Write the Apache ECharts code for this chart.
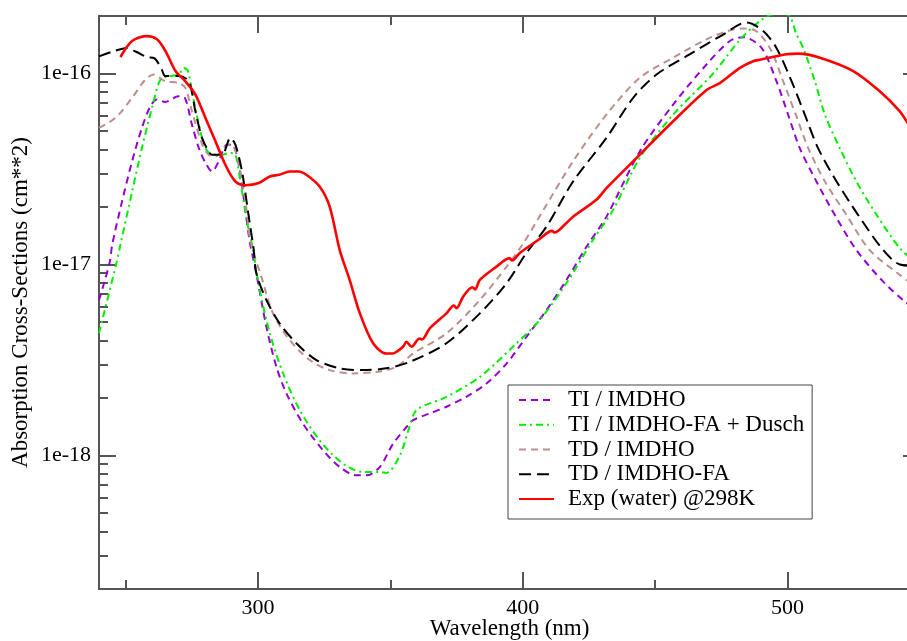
<!DOCTYPE html>
<html>
<head>
<meta charset="utf-8">
<script src="https://cdn.jsdelivr.net/npm/echarts@6/dist/echarts.min.js"></script>
<style>html,body{margin:0;padding:0;background:#fff;}#chart{width:907px;height:641px;}</style>
</head>
<body>
<div id="chart"></div>
<script>
// ---- data (wavelength in nm, cross-section in cm^2) ----
const seriesNames = ['TI / IMDHO', 'TI / IMDHO-FA + Dusch', 'TD / IMDHO', 'TD / IMDHO-FA', 'Exp (water) @298K'];

const tiImdhoWl = [240,244,245,248.7,252.5,256.2,259.4,261.9,265,270,272.4,275.1,277.7,280.2,282.7,285.2,288.3,290.2,292.8,295.3,297,299.4,303.2,307,310.8,317,324.6,330.9,337.2,341,346,351,356.1,358.6,364.9,371.2,378.7,386.3,393.9,401.4,409,416.5,424.1,431.6,444.2,456.8,469.4,478.2,483.2,490.2,495.8,500.2,504.6,510.9,517.8,526,536.1,544.3,550];
const tiImdhoVal = [6.5e-18,1.02e-17,1.27e-17,2.14e-17,3.47e-17,5.19e-17,6.74e-17,7.31e-17,7.1e-17,7.6e-17,7.46e-17,5.4e-17,4.07e-17,3.4e-17,3.07e-17,3.47e-17,4.24e-17,4.24e-17,3.33e-17,1.9e-17,1.3e-17,9.0e-18,4.72e-18,2.91e-18,2.11e-18,1.47e-18,1.065e-18,8.7e-19,7.87e-19,7.87e-19,8.7e-19,1.15e-18,1.41e-18,1.53e-18,1.66e-18,1.8e-18,2.03e-18,2.38e-18,3.03e-18,4.18e-18,5.78e-18,8.3e-18,1.24e-17,1.78e-17,3.91e-17,6.88e-17,1.115e-16,1.48e-16,1.55e-16,1.36e-16,9.11e-17,6.09e-17,4.07e-17,2.72e-17,1.82e-17,1.19e-17,8.13e-18,6.39e-18,5.6e-18];

const tiFaWl = [240,246.6,248.1,252.5,256.2,260,263.2,266.3,270.1,272,273.6,275.1,277.7,280.2,282.7,286.4,289.6,291.5,293.4,295.9,297.8,300.7,304.5,309.5,315.8,323.3,332.1,339.7,346,348.5,353.6,357.3,359.9,371.2,383.8,396.3,406.4,416.5,426.6,434.1,444.2,456.8,471.9,482,489.5,495,500,503.4,505.9,510.3,514.1,519.7,526,533.6,543,550];
const tiFaVal = [4.36e-18,1.02e-17,1.27e-17,2.41e-17,4.07e-17,6.61e-17,9.3e-17,9.68e-17,9.88e-17,1.07e-16,1.03e-16,8.07e-17,5.4e-17,4.07e-17,3.76e-17,3.76e-17,3.84e-17,3.76e-17,2.72e-17,1.68e-17,1.27e-17,7.36e-18,4.36e-18,2.69e-18,1.73e-18,1.2e-18,9.07e-19,8.2e-19,8.2e-19,8.1e-19,1.0e-18,1.42e-18,1.73e-18,2.03e-18,2.58e-18,3.71e-18,5.12e-18,7.98e-18,1.35e-17,1.93e-17,3.61e-17,6.09e-17,1.0e-16,1.5e-16,1.88e-16,2.05e-16,2.04e-16,1.6e-16,1.36e-16,9.11e-17,6.09e-17,4.07e-17,2.72e-17,1.82e-17,1.19e-17,1.0e-17];

const tdImdhoWl = [240,246.2,252.5,257.5,260.7,265,270,272.6,275.1,279,281.4,284,287.7,290.2,292.8,295.3,297.2,301.3,305.7,312,319.6,327.1,335.9,344.8,352.3,358.6,371.2,383.8,393.9,400.2,407.6,419,431.6,444.2,456.8,469.4,477,482,487,493.3,498.3,503.1,507.8,514.1,522.2,531,542.4,550];
const tdImdhoVal = [5.19e-17,5.85e-17,7.46e-17,9.3e-17,9.88e-17,9.1e-17,8.94e-17,8.41e-17,6.34e-17,4.24e-17,3.76e-17,3.68e-17,4.15e-17,4.24e-17,3.33e-17,2.14e-17,1.32e-17,8.64e-18,5.55e-18,4.02e-18,3.16e-18,2.8e-18,2.69e-18,2.74e-18,2.91e-18,3.42e-18,4.36e-18,6.52e-18,9.75e-18,1.29e-17,1.91e-17,3.47e-17,6.09e-17,9.49e-17,1.21e-16,1.51e-16,1.66e-16,1.72e-16,1.7e-16,1.36e-16,9.11e-17,6.09e-17,4.07e-17,2.72e-17,1.82e-17,1.19e-17,8.82e-18,7.36e-18];

const tdFaWl = [240,245,250.5,254,258,261,263.7,265,270,273.9,276.4,278.9,281.4,282.6,286.4,289.6,291.5,294,296.5,298.4,299.4,303.2,308.2,314.5,322.1,330.9,339.7,348.5,357.3,371.2,383.8,393.9,401.4,409,419,431.6,441.7,450.5,463,475.7,484.5,490.8,495.8,501.5,506.5,511.5,518.5,526.6,536.1,542.4,550];
const tdFaVal = [1.23e-16,1.3e-16,1.36e-16,1.3e-16,1.22e-16,1.2e-16,1.05e-16,9.7e-17,9.7e-17,9.1e-17,6.34e-17,4.6e-17,3.91e-17,3.76e-17,3.76e-17,4.6e-17,4.24e-17,3.07e-17,1.8e-17,1.2e-17,9.0e-18,6.52e-18,4.92e-18,3.87e-18,3.16e-18,2.86e-18,2.8e-18,2.86e-18,3.09e-18,3.87e-18,5.55e-18,7.98e-18,1.15e-17,1.58e-17,2.72e-17,4.6e-17,7.46e-17,9.88e-17,1.26e-16,1.6e-16,1.85e-16,1.67e-16,1.36e-16,9.11e-17,6.09e-17,4.07e-17,2.72e-17,1.82e-17,1.19e-17,1.0e-17,9.8e-18];

const expWl = [248.1,252.5,258.1,261.9,265.1,268.9,272.6,276.4,280.2,284,287.7,291.5,295.3,300.3,304.5,308,312,315.4,318.3,323.3,327.1,330.9,334.7,338.5,343.5,348.5,351,352.3,354.8,356.1,358,361,362,364.9,371.2,374,375,377.5,381,382,383.8,390.1,395,396,398.9,406.4,411,412,416.5,419,427.8,431.6,444.2,456.8,469.4,474.4,482,487,489.5,499.6,504,512.2,524.8,534.8,542.4,545,550];
const expVal = [1.22e-16,1.48e-16,1.57e-16,1.51e-16,1.31e-16,1.03e-16,9.11e-17,7.76e-17,5.85e-17,4.41e-17,3.33e-17,2.72e-17,2.6e-17,2.67e-17,2.89e-17,2.95e-17,3.07e-17,3.07e-17,2.95e-17,2.56e-17,2.01e-17,1.19e-17,8.26e-18,5.55e-18,3.87e-18,3.42e-18,3.42e-18,3.49e-18,3.71e-18,3.94e-18,3.71e-18,4.1e-18,4.05e-18,4.63e-18,5.55e-18,6.1e-18,5.9e-18,6.79e-18,7.6e-18,7.4e-18,8.3e-18,9.75e-18,1.08e-17,1.05e-17,1.15e-17,1.36e-17,1.5e-17,1.47e-17,1.65e-17,1.78e-17,2.18e-17,2.51e-17,3.76e-17,5.62e-17,8.2e-17,8.9e-17,1.07e-16,1.16e-16,1.18e-16,1.26e-16,1.27e-16,1.21e-16,1.03e-16,8.07e-17,6.34e-17,5.6e-17,4.5e-17];

const xMajorTicks = [300, 400, 500];
const xMinorTicks = [250, 350, 450, 550];
const yMajorTicks = [1e-18, 1e-17, 1e-16];
const yMinorTicks = [3e-19,4e-19,5e-19,6e-19,7e-19,8e-19,9e-19,2e-18,3e-18,4e-18,5e-18,6e-18,7e-18,8e-18,9e-18,2e-17,3e-17,4e-17,5e-17,6e-17,7e-17,8e-17,9e-17];

// ---- chart ----
const FONT = "'Liberation Serif', 'Times New Roman', serif";
const AX = '#555';
const zip = (a, b) => a.map((v, i) => [v, b[i]]);

function xAx(pos, ticks, len, showLine, showLabel, name) {
  return {
    type: 'value', position: pos, min: 240, max: 550,
    splitLine: { show: false },
    axisLine: { show: showLine, lineStyle: { color: AX, width: 2 } },
    axisTick: { show: true, inside: true, length: len, customValues: ticks, lineStyle: { color: AX, width: 2 } },
    axisLabel: { show: showLabel, customValues: ticks, margin: 8, color: '#000', fontFamily: FONT, fontSize: 22 },
    name: name || '', nameLocation: 'middle', nameGap: 28, nameMoveOverlap: false,
    nameTextStyle: { color: '#000', fontFamily: FONT, fontSize: 23 }
  };
}
function yAx(pos, ticks, len, showLine, showLabel, name) {
  return {
    type: 'log', logBase: 10, position: pos, min: 2e-19, max: 2e-16,
    splitLine: { show: false },
    axisLine: { show: showLine, lineStyle: { color: AX, width: 2 } },
    axisTick: { show: true, inside: true, length: len, customValues: ticks, lineStyle: { color: AX, width: 2 } },
    axisLabel: { show: showLabel, customValues: ticks, margin: 8, color: '#000', fontFamily: FONT, fontSize: 22,
      formatter: v => '1e' + Math.round(Math.log10(v)) },
    name: name || '', nameLocation: 'middle', nameGap: 67, nameMoveOverlap: false,
    nameTextStyle: { color: '#000', fontFamily: FONT, fontSize: 23 }
  };
}

const lines = [
  { name: seriesNames[0], d: zip(tiImdhoWl, tiImdhoVal), color: '#9400d3', type: [7, 5], width: 2 },
  { name: seriesNames[1], d: zip(tiFaWl, tiFaVal), color: '#00ee00', type: [7, 4, 2, 4], width: 2 },
  { name: seriesNames[2], d: zip(tdImdhoWl, tdImdhoVal), color: '#bc8f8f', type: [7, 5], width: 2 },
  { name: seriesNames[3], d: zip(tdFaWl, tdFaVal), color: '#000000', type: [12, 6], width: 2 },
  { name: seriesNames[4], d: zip(expWl, expVal), color: '#ff0000', type: 'solid', width: 2.6 }
];

const chart = echarts.init(document.getElementById('chart'), null, { renderer: 'canvas' });
chart.setOption({
  animation: false,
  backgroundColor: '#fff',
  grid: { left: 99, top: 16, width: 821, height: 573, containLabel: false, outerBoundsMode: 'none' },
  xAxis: [
    xAx('bottom', xMajorTicks, 17, true, true, 'Wavelength (nm)'),
    xAx('bottom', xMinorTicks, 9, false, false),
    xAx('top', xMajorTicks, 17, true, false),
    xAx('top', xMinorTicks, 9, false, false)
  ],
  yAxis: [
    yAx('left', yMajorTicks, 17, true, true, 'Absorption Cross-Sections (cm**2)'),
    yAx('left', yMinorTicks, 9, false, false),
    yAx('right', yMajorTicks, 17, true, false),
    yAx('right', yMinorTicks, 9, false, false)
  ],
  legend: {
    orient: 'vertical', left: 508, top: 385,
    padding: [3.5, 8, 8.5, 10], itemGap: 1.75, itemWidth: 35, itemHeight: 14,
    borderColor: '#444', borderWidth: 1, backgroundColor: '#fff',
    itemStyle: { color: 'rgba(0,0,0,0)', borderWidth: 0, opacity: 0 },
    textStyle: { color: '#000', fontFamily: FONT, fontSize: 23, lineHeight: 23, padding: [0, 0, 0, 9] },
    data: seriesNames
  },
  series: lines.map(l => ({
    name: l.name, type: 'line', data: l.d, xAxisIndex: 0, yAxisIndex: 0,
    showSymbol: false, symbol: 'none', smooth: 0.3, clip: true,
    lineStyle: { color: l.color, width: l.width, type: l.type },
    itemStyle: { color: l.color }
  }))
});
</script>
</body>
</html>
